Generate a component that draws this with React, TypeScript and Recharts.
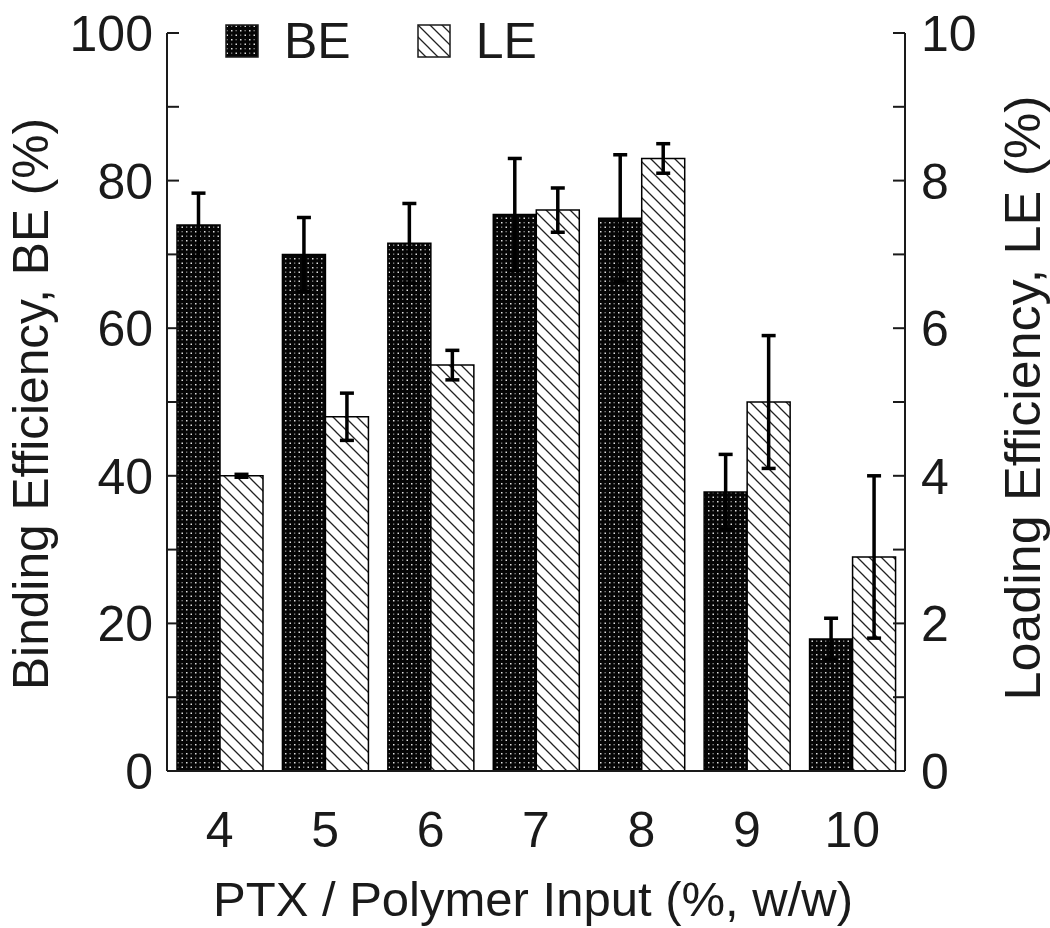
import { BarChart, Bar, XAxis, YAxis, ErrorBar, Legend } from 'recharts';

const categories = ['4', '5', '6', '7', '8', '9', '10'];
const beValues = [74, 70, 71.5, 75.4, 74.9, 37.8, 17.9];
const beErrors = [4.3, 5, 5.4, 7.6, 8.6, 5.1, 2.8];
const leValues = [4.0, 4.8, 5.5, 7.6, 8.3, 5.0, 2.9];
const leErrors = [0.02, 0.32, 0.2, 0.3, 0.2, 0.9, 1.1];
const leftTicks = [0, 10, 20, 30, 40, 50, 60, 70, 80, 90, 100];
const rightTicks = [0, 1, 2, 3, 4, 5, 6, 7, 8, 9, 10];

const data = categories.map((c, i) => ({
  cat: c,
  be: beValues[i],
  beErr: beErrors[i],
  le: leValues[i],
  leErr: leErrors[i],
}));

const FONT = '"Liberation Sans", Arial, sans-serif';
const INK = '#1a1a1a';

function Patterns({ suffix = '' }: { suffix?: string }) {
  return (
    <defs>
      <pattern id={`dots${suffix}`} patternUnits="userSpaceOnUse" width="9" height="9">
        <rect width="9" height="9" fill="#050505" />
        <rect x="1.5" y="1.5" width="1.5" height="1.5" fill="#e0e0e0" />
        <rect x="6" y="6" width="1.5" height="1.5" fill="#e0e0e0" />
        <rect x="6" y="1.5" width="1.3" height="1.3" fill="#8a8a8a" />
        <rect x="1.5" y="6" width="1.3" height="1.3" fill="#8a8a8a" />
      </pattern>
      <pattern id={`hatch${suffix}`} patternUnits="userSpaceOnUse" width="12" height="12">
        <rect width="12" height="12" fill="#fff" />
        <path d="M0,0 L12,12 M-1,11 L1,13 M11,-1 L13,1" stroke="#222" strokeWidth={1.3} />
      </pattern>
    </defs>
  );
}

function LeftTick({ x, y, payload }: any) {
  const v = payload.value;
  return (
    <g>
      <line x1={x} x2={x + 12} y1={y} y2={y} stroke={INK} strokeWidth={2} />
      {v % 20 === 0 && (
        <text x={x - 14} y={y} dy={18} textAnchor="end" fontSize={50} fontFamily={FONT} fill={INK}>
          {v}
        </text>
      )}
    </g>
  );
}

function RightTick({ x, y, payload }: any) {
  const v = payload.value;
  return (
    <g>
      <line x1={x} x2={x - 12} y1={y} y2={y} stroke={INK} strokeWidth={2} />
      {v % 2 === 0 && (
        <text x={x + 16} y={y} dy={18} textAnchor="start" fontSize={50} fontFamily={FONT} fill={INK}>
          {v}
        </text>
      )}
    </g>
  );
}

function BottomTick({ x, y, payload }: any) {
  return (
    <text x={x} y={y + 76} textAnchor="middle" fontSize={50} fontFamily={FONT} fill={INK}>
      {payload.value}
    </text>
  );
}

function LegendBox() {
  const items = [
    { name: 'BE', fill: 'url(#dotsL)' },
    { name: 'LE', fill: 'url(#hatchL)' },
  ];
  return (
    <div style={{ display: 'flex', alignItems: 'center', paddingLeft: 225, paddingTop: 21, fontFamily: FONT }}>
      <svg width={0} height={0} style={{ position: 'absolute' }}>
        <Patterns suffix="L" />
      </svg>
      {items.map((it, i) => (
        <div key={it.name} style={{ display: 'flex', alignItems: 'center', marginRight: i === 0 ? 66 : 0 }}>
          <svg width={34} height={34}>
            <rect x={1} y={1} width={32} height={32} fill={it.fill} stroke={INK} strokeWidth={1.5} />
          </svg>
          <span style={{ fontSize: 50, lineHeight: '40px', marginLeft: 25, color: INK }}>{it.name}</span>
        </div>
      ))}
    </div>
  );
}

export default function App() {
  return (
    <div style={{ position: 'absolute', left: 0, top: 0, background: '#fff' }}>
      <BarChart
        width={1050}
        height={928}
        data={data}
        margin={{ top: 33, right: 0, bottom: 0, left: 0 }}
        barGap={0}
        barCategoryGap={0}
      >
        <Patterns />
        <XAxis
          dataKey="cat"
          height={157}
          tickLine={false}
          tickSize={0}
          tickMargin={0}
          axisLine={{ stroke: INK, strokeWidth: 2 }}
          tick={<BottomTick />}
          interval={0}
          label={() => (
            <text
              x={533}
              y={916}
              textAnchor="middle"
              fontSize={48}
              fontFamily={FONT}
              fill={INK}
              textLength={640}
              lengthAdjust="spacingAndGlyphs"
            >
              PTX / Polymer Input (%, w/w)
            </text>
          )}
        />
        <YAxis
          yAxisId="left"
          width={167}
          domain={[0, 100]}
          ticks={leftTicks}
          interval={0}
          tickLine={false}
          tickSize={0}
          tickMargin={0}
          axisLine={{ stroke: INK, strokeWidth: 2 }}
          tick={<LeftTick />}
          label={() => (
            <text
              x={48}
              y={404}
              transform="rotate(-90, 48, 404)"
              textAnchor="middle"
              fontSize={50}
              fontFamily={FONT}
              fill={INK}
              textLength={572}
              lengthAdjust="spacingAndGlyphs"
            >
              Binding Efficiency, BE (%)
            </text>
          )}
        />
        <YAxis
          yAxisId="right"
          orientation="right"
          width={145}
          domain={[0, 10]}
          ticks={rightTicks}
          interval={0}
          tickLine={false}
          tickSize={0}
          tickMargin={0}
          axisLine={{ stroke: INK, strokeWidth: 2 }}
          tick={<RightTick />}
          label={() => (
            <text
              x={1040}
              y={398}
              transform="rotate(-90, 1040, 398)"
              textAnchor="middle"
              fontSize={50}
              fontFamily={FONT}
              fill={INK}
              textLength={605}
              lengthAdjust="spacingAndGlyphs"
            >
              Loading Efficiency, LE (%)
            </text>
          )}
        />
        <Legend
          layout="horizontal"
          verticalAlign="middle"
          align="center"
          wrapperStyle={{ top: 0, left: 0, width: 700, height: 80 }}
          content={() => <LegendBox />}
        />
        <Bar
          yAxisId="left"
          dataKey="be"
          name="BE"
          fill="url(#dots)"
          stroke="#000"
          strokeWidth={1.5}
          barSize={43}
          isAnimationActive={false}
        >
          <ErrorBar dataKey="beErr" width={7} strokeWidth={3.5} stroke="#000" direction="y" isAnimationActive={false} />
        </Bar>
        <Bar
          yAxisId="right"
          dataKey="le"
          name="LE"
          fill="url(#hatch)"
          stroke="#000"
          strokeWidth={1.5}
          barSize={43}
          isAnimationActive={false}
        >
          <ErrorBar dataKey="leErr" width={7} strokeWidth={3.5} stroke="#000" direction="y" isAnimationActive={false} />
        </Bar>
      </BarChart>
    </div>
  );
}
